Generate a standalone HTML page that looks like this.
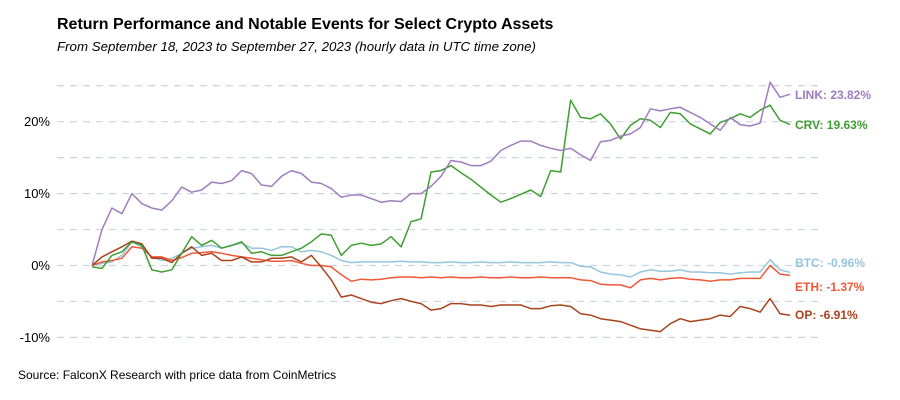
<!DOCTYPE html>
<html><head><meta charset="utf-8">
<style>
body{margin:0;background:#fff;}
svg{display:block;font-family:"Liberation Sans",sans-serif;}
</style></head>
<body>
<svg id="chart" width="900" height="400" viewBox="0 0 900 400">
<text x="57" y="29" font-size="16" font-weight="bold" fill="#000">Return Performance and Notable Events for Select Crypto Assets</text>
<text x="57" y="51" font-size="13.3" font-style="italic" fill="#000">From September 18, 2023 to September 27, 2023 (hourly data in UTC time zone)</text>
<text x="18" y="379" font-size="12" fill="#000">Source: FalconX Research with price data from CoinMetrics</text>
<g id="grid"></g><g id="yaxis"></g><g id="series"></g><g id="labels"></g>
</svg>
<script>
const gridValues=[25,20,15,10,5,0,-5,-10];
const tickValues=[20,10,0,-10];
const tickLabels=["20%","10%","0%","-10%"];
const assetNames=["LINK","CRV","BTC","ETH","OP"];
const finalLabels=["LINK: 23.82%","CRV: 19.63%","BTC: -0.96%","ETH: -1.37%","OP: -6.91%"];
const linkValues=[0,5,8.0,7.2,10,8.6,8,7.7,9,10.9,10.2,10.5,11.6,11.4,11.8,13.2,12.8,11.2,11,12.4,13.2,12.8,11.6,11.4,10.7,9.5,9.8,9.8,9.3,8.8,9.0,8.9,10,10,11,
12.4,14.6,14.4,13.9,13.9,14.5,16.0,16.7,17.3,17.3,16.7,16.3,16.0,16.3,15.4,14.6,17.2,17.4,18.0,18.3,19.2,21.8,21.5,21.8,22.0,21.3,20.6,19.7,18.8,20.6,19.6,19.4,19.8,25.5,23.4,23.82];
const crvValues=[-0.2,-0.4,1.4,1.9,3.3,2.8,-0.6,-0.9,-0.6,1.7,4.0,2.8,3.5,2.4,2.8,3.3,1.7,1.9,1.4,1.4,1.9,2.4,3.3,4.4,4.2,1.4,2.8,3.1,2.8,3.0,4.0,2.6,6.1,6.5,13,
13.2,13.9,12.9,12,10.9,9.8,8.8,9.3,9.9,10.5,9.6,13.2,13.0,23.0,20.6,20.4,21.1,19.7,17.6,19.5,20.4,20.2,19.2,21.3,21.1,19.7,19.0,18.3,19.9,20.4,21.1,20.6,21.6,22.3,20.2,19.63];
const btcValues=[0,0.3,0.5,1.4,3.3,2.6,1.2,0.7,1.0,1.7,2.4,2.6,2.8,2.4,2.8,3.1,2.4,2.4,2.1,2.6,2.6,1.9,2.1,1.9,1.4,0.7,0.4,0.5,0.5,0.5,0.5,0.6,0.5,0.5,0.4,
0.4,0.5,0.4,0.4,0.5,0.4,0.4,0.5,0.4,0.4,0.4,0.5,0.4,0.4,-0.1,-0.2,-0.9,-1.2,-1.3,-1.6,-0.9,-0.6,-0.8,-0.8,-0.6,-0.9,-0.9,-1.0,-1.0,-1.2,-1.0,-0.9,-0.9,0.8,-0.6,-0.96];
const ethValues=[0,0.5,0.7,1.0,2.6,2.4,1.2,1.2,0.7,1.1,1.7,1.8,1.9,1.7,1.4,1.2,1.0,0.8,0.6,0.6,0.7,0.3,0.0,0.0,-0.2,-1.3,-2.2,-1.9,-2.0,-1.9,-1.7,-1.6,-1.6,-1.7,-1.6,
-1.7,-1.6,-1.7,-1.7,-1.6,-1.7,-1.7,-1.6,-1.7,-1.7,-1.6,-1.7,-1.7,-1.7,-2.0,-2.1,-2.6,-2.7,-2.7,-3.1,-2.0,-1.8,-2.0,-1.8,-1.7,-1.9,-2.0,-2.2,-2.0,-2.0,-1.8,-1.8,-1.8,0.0,-1.2,-1.37];
const opValues=[0,1.2,1.9,2.6,3.4,3.0,1.0,1.0,0.4,1.7,2.6,1.4,1.7,0.7,0.7,1.2,0.5,0.5,1.0,1.0,1.2,0.5,1.4,-0.2,-2.0,-4.4,-4.1,-4.6,-5.1,-5.3,-4.9,-4.6,-5.0,-5.3,-6.2,
-6.0,-5.3,-5.3,-5.5,-5.5,-5.7,-5.5,-5.5,-5.5,-6.0,-6.0,-5.6,-5.5,-5.7,-6.7,-6.9,-7.4,-7.6,-7.8,-8.3,-8.8,-9.0,-9.2,-8.1,-7.4,-7.8,-7.6,-7.4,-6.9,-7.1,-5.7,-6.0,-6.5,-4.6,-6.7,-6.91];
const seriesColors=["#a07cc0","#3f9e32","#96c5de","#ef5836","#a9431d"];
const labelY=[99,129,267,291,319];

const NS="http://www.w3.org/2000/svg";
const x0=92,x1=790,zeroY=265.5,pxPerPct=7.19;
function yScale(v){return zeroY-v*pxPerPct;}
function xScale(i,n){return x0+i*(x1-x0)/(n-1);}
function mk(tag,attrs,parent){const e=document.createElementNS(NS,tag);for(const k in attrs)e.setAttribute(k,attrs[k]);parent.appendChild(e);return e;}

const grid=document.getElementById('grid');
gridValues.forEach(v=>{
  const l=mk('line',{x1:57,x2:822,y1:yScale(v),y2:yScale(v),stroke:'#ccd3e3','stroke-width':1.2,'stroke-dasharray':'7,6'},grid);
  
  
});
const yaxis=document.getElementById('yaxis');
tickValues.forEach((v,i)=>{
  const t=mk('text',{x:50,y:yScale(v)+4.5,'text-anchor':'end','font-size':13,fill:'#000'},yaxis);
  t.textContent=tickLabels[i];
  
  
});
const allSeries=[linkValues,crvValues,btcValues,ethValues,opValues];
const drawOrder=[2,3,4,1,0];
const sg=document.getElementById('series');
drawOrder.forEach(s=>{
  const vals=allSeries[s];
  const d=vals.map((v,i)=>(i?'L':'M')+xScale(i,vals.length).toFixed(1)+','+yScale(v).toFixed(1)).join('');
  const p=mk('path',{d:d,fill:'none',stroke:seriesColors[s],'stroke-width':1.5,'stroke-linejoin':'round'},sg);
  
  
});
const lg=document.getElementById('labels');
finalLabels.forEach((txt,s)=>{
  const t=mk('text',{x:795,y:labelY[s],'font-size':12,'font-weight':'bold',fill:seriesColors[s]},lg);
  t.textContent=txt;
  
  
});
</script>
</body></html>
